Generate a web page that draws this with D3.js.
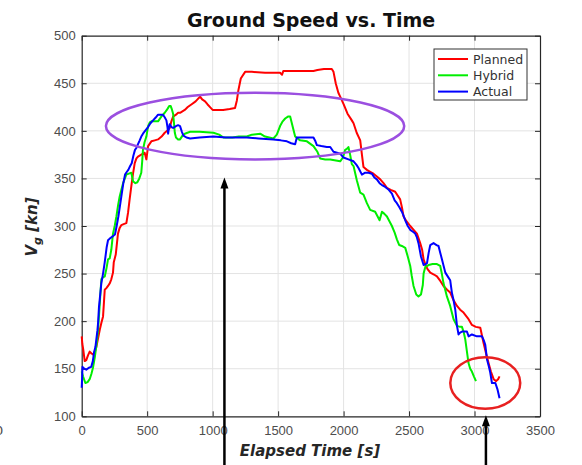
<!DOCTYPE html>
<html>
<head>
<meta charset="utf-8">
<script src="https://cdn.jsdelivr.net/npm/d3@7"></script>
<style>
  body { margin: 0; background: #fff; }
  svg { display: block; font-family: "DejaVu Sans", sans-serif; }
  .grid line { stroke: #e3e3e3; stroke-width: 1; }
  .tick text { fill: #4d4d4d; font-size: 13px; }
</style>
</head>
<body>
<svg width="582" height="465"></svg>
<script>
// series: [elapsed time s, ground speed kn]
const planned = [[0,184],[5,176],[12,170],[23,158],[35,159],[48,164],[61,168],[75,166],[86,165],[100,168],[112,173],[125,182],[138,191],[150,198],[163,205],[170,220],[176,233],[190,235],[201,237],[215,240],[226,244],[239,251],[245,262],[260,270],[277,292],[290,298],[303,301],[320,302],[341,303],[354,314],[366,328],[379,342],[392,355],[405,366],[418,371],[430,373],[455,375],[481,377],[494,370],[507,384],[532,389],[558,390],[583,391],[610,394],[634,398],[660,401],[672,403],[685,410],[698,415],[720,417],[736,419],[751,419],[787,422],[810,425],[840,428],[870,431],[904,436],[920,433],[942,431],[960,428],[980,425],[1000,422],[1019,422],[1080,422],[1130,423],[1171,424],[1185,432],[1197,443],[1215,455],[1248,462],[1300,462],[1400,461],[1515,461],[1530,459],[1540,463],[1600,463],[1700,463],[1770,463],[1800,464],[1850,465],[1910,465],[1923,462],[1940,450],[1960,440],[1974,436],[2000,428],[2030,418],[2063,411],[2076,408],[2100,398],[2127,390],[2140,375],[2152,362],[2178,359],[2203,357],[2228,355],[2254,352],[2280,349],[2305,345],[2331,340],[2360,338],[2394,336],[2432,328],[2445,320],[2458,310],[2480,305],[2509,300],[2535,296],[2560,292],[2585,282],[2600,275],[2611,265],[2624,260],[2640,255],[2662,251],[2690,249],[2713,247],[2740,242],[2763,237],[2790,233],[2814,230],[2840,222],[2866,216],[2890,212],[2916,209],[2950,203],[2980,196],[3010,194],[3044,193],[3069,177],[3090,165],[3107,156],[3125,147],[3146,139],[3165,137],[3180,139],[3191,142]];

const hybrid = [[0,147],[10,142],[28,135],[45,136],[61,139],[75,145],[86,151],[100,162],[112,174],[125,191],[138,218],[150,244],[163,246],[176,247],[190,256],[201,265],[214,266],[226,275],[239,292],[252,300],[265,310],[278,322],[290,331],[303,338],[316,345],[330,350],[341,354],[360,355],[379,356],[392,347],[410,345],[425,346],[440,350],[455,356],[462,368],[468,380],[480,388],[494,394],[507,405],[520,409],[532,410],[560,410],[583,410],[608,415],[634,419],[650,422],[668,426],[680,426],[690,422],[698,418],[705,408],[711,398],[720,393],[736,391],[751,391],[770,395],[787,397],[828,399],[900,399],[1006,398],[1050,396],[1082,393],[1150,393],[1200,394],[1261,394],[1300,396],[1363,397],[1400,394],[1464,392],[1490,396],[1515,405],[1535,410],[1554,413],[1575,415],[1592,415],[1610,405],[1630,394],[1668,390],[1720,389],[1770,384],[1800,378],[1821,371],[1860,370],[1898,370],[1974,368],[1995,372],[2012,380],[2025,381],[2037,383],[2050,375],[2063,365],[2076,363],[2101,348],[2127,335],[2152,333],[2178,324],[2203,317],[2241,315],[2260,310],[2275,306],[2293,315],[2310,313],[2331,310],[2350,305],[2369,300],[2390,293],[2407,286],[2425,280],[2445,279],[2471,277],[2490,268],[2509,258],[2520,248],[2534,237],[2555,228],[2572,226],[2591,228],[2605,238],[2611,250],[2624,257],[2649,259],[2680,260],[2713,260],[2738,258],[2750,250],[2763,240],[2789,226],[2814,216],[2840,202],[2866,195],[2890,194],[2904,194],[2918,188],[2929,181],[2942,168],[2954,156],[2967,150],[2980,147],[2995,142],[3011,137]];

const actual = [[0,130],[3,140],[6,152],[20,150],[35,149],[55,151],[73,152],[85,158],[94,167],[105,173],[112,181],[120,190],[125,198],[132,215],[140,226],[150,240],[163,250],[176,262],[191,278],[201,285],[216,287],[235,289],[254,291],[267,300],[280,310],[293,322],[306,334],[318,345],[331,354],[345,357],[356,359],[370,363],[382,366],[395,374],[407,380],[417,382],[430,386],[443,390],[455,394],[468,397],[490,401],[507,404],[525,408],[545,411],[565,414],[583,417],[605,417],[621,417],[635,414],[647,411],[655,404],[660,397],[665,402],[672,407],[685,404],[698,403],[720,405],[736,406],[751,405],[765,399],[777,395],[800,393],[828,392],[900,393],[1006,394],[1100,393],[1261,393],[1350,392],[1464,391],[1520,390],[1567,389],[1600,387],[1630,386],[1643,393],[1700,393],[1770,393],[1785,389],[1796,385],[1830,384],[1872,383],[1898,383],[1923,378],[1950,377],[1974,376],[1999,372],[2037,370],[2076,368],[2100,364],[2114,361],[2140,354],[2165,356],[2190,356],[2216,355],[2235,351],[2254,349],[2275,345],[2293,343],[2318,341],[2345,338],[2369,334],[2390,327],[2407,324],[2425,320],[2445,315],[2460,310],[2471,306],[2490,300],[2509,296],[2530,294],[2547,292],[2560,288],[2572,282],[2591,268],[2611,259],[2625,260],[2637,261],[2650,272],[2662,280],[2687,282],[2710,280],[2725,279],[2738,272],[2751,265],[2777,251],[2800,246],[2814,243],[2827,230],[2840,222],[2853,212],[2866,195],[2878,186],[2890,188],[2904,189],[2942,189],[2955,184],[2980,186],[3018,184],[3057,184],[3070,180],[3082,175],[3095,160],[3110,152],[3120,146],[3133,135],[3159,135],[3176,128],[3191,119]];

const seriesNames = ["Planned", "Hybrid", "Actual"];
const seriesColors = ["#ff0000", "#00ee00", "#0000ff"];
const xTicks = [0, 500, 1000, 1500, 2000, 2500, 3000, 3500];
const yTicks = [100, 150, 200, 250, 300, 350, 400, 450, 500];

// annotations in data units: [cx, cy, rx, ry]
const purpleEllipse = [1324, 405, 1139, 35];
const redEllipse = [3082, 135, 267, 27];
// arrows: [time, tip speed]
const arrows = [[1090, 351], [3087, 101]];

const svg = d3.select("svg");
const plotL = 81.7, plotR = 540, plotT = 35.7, plotB = 416.3;

const x = d3.scaleLinear().domain([0, 3500]).range([plotL, plotR]);
const y = d3.scaleLinear().domain([100, 500]).range([plotB, plotT]);

// grid
const grid = svg.append("g").attr("class", "grid");
grid.selectAll(".gx").data(xTicks.slice(1, -1)).enter().append("line")
    .attr("x1", d => x(d)).attr("x2", d => x(d))
    .attr("y1", plotT).attr("y2", plotB);
grid.selectAll(".gy").data(yTicks.slice(1, -1)).enter().append("line")
    .attr("y1", d => y(d)).attr("y2", d => y(d))
    .attr("x1", plotL).attr("x2", plotR);

// axes (MATLAB box, inward ticks)
const axColor = "#262626";
svg.append("g").attr("transform", `translate(0,${plotB})`)
    .call(d3.axisBottom(x).tickValues(xTicks).tickFormat(d3.format("d"))
        .tickSizeInner(-5).tickSizeOuter(0).tickPadding(9))
    .call(g => g.selectAll("line, path").attr("stroke", axColor));
svg.append("g").attr("transform", `translate(${plotL},0)`)
    .call(d3.axisLeft(y).tickValues(yTicks).tickFormat(d3.format("d"))
        .tickSizeInner(-5).tickSizeOuter(0).tickPadding(6))
    .call(g => g.selectAll("line, path").attr("stroke", axColor));
svg.append("g").attr("transform", `translate(0,${plotT})`)
    .call(d3.axisTop(x).tickValues(xTicks).tickSizeInner(-5).tickSizeOuter(0).tickFormat(""))
    .call(g => g.selectAll("line, path").attr("stroke", axColor));
svg.append("g").attr("transform", `translate(${plotR},0)`)
    .call(d3.axisRight(y).tickValues(yTicks).tickSizeInner(-5).tickSizeOuter(0).tickFormat(""))
    .call(g => g.selectAll("line, path").attr("stroke", axColor));
svg.selectAll(".domain").attr("stroke-width", 1.2);

// lines
const line = d3.line().x(d => x(d[0])).y(d => y(d[1]));
[planned, hybrid, actual].forEach((s, i) => {
    svg.append("path")
        .datum(s)
        .attr("fill", "none")
        .attr("stroke", seriesColors[i])
        .attr("stroke-width", 2)
        .attr("stroke-linejoin", "round")
        .attr("d", line);
});

// title and labels
svg.append("text")
    .attr("x", 311).attr("y", 27)
    .attr("text-anchor", "middle")
    .attr("font-size", 19).attr("font-weight", "bold")
    .attr("fill", "#111")
    .text("Ground Speed vs. Time");

svg.append("text")
    .attr("x", 310).attr("y", 456)
    .attr("text-anchor", "middle")
    .attr("font-size", 15).attr("font-weight", "bold").attr("font-style", "italic")
    .attr("fill", "#262626")
    .text("Elapsed Time [s]");

const yl = svg.append("text")
    .attr("transform", "translate(37,227) rotate(-90)")
    .attr("text-anchor", "middle")
    .attr("font-size", 15).attr("font-weight", "bold").attr("font-style", "italic")
    .attr("fill", "#262626");
yl.append("tspan").text("V");
yl.append("tspan").attr("dy", 4).attr("font-size", 11).text("g");
yl.append("tspan").attr("dy", -4).text(" [kn]");

// stray clipped label at left edge (cut off in the source image too)
svg.append("text")
    .attr("x", -5).attr("y", 435)
    .attr("font-size", 13).attr("fill", "#4d4d4d")
    .text("0");

// legend
const lg = svg.append("g").attr("transform", "translate(434,49)");
lg.append("rect").attr("width", 93).attr("height", 51)
    .attr("fill", "#fff").attr("stroke", "#333").attr("stroke-width", 1);
seriesNames.forEach((n, i) => {
    const yy = 10 + i * 16.3;
    lg.append("line").attr("x1", 4).attr("x2", 34).attr("y1", yy).attr("y2", yy)
        .attr("stroke", seriesColors[i]).attr("stroke-width", 2);
    lg.append("text").attr("x", 39).attr("y", yy + 4.5)
        .attr("font-size", 12.5).attr("fill", "#333").text(n);
});

// annotations
function drawEllipse(e, color) {
    svg.append("ellipse")
        .attr("cx", x(e[0])).attr("cy", y(e[1]))
        .attr("rx", x(e[2]) - x(0)).attr("ry", y(100) - y(100 + e[3]))
        .attr("fill", "none").attr("stroke", color).attr("stroke-width", 2.5);
}
drawEllipse(purpleEllipse, "#9b4fe0");
drawEllipse(redEllipse, "#e82020");

arrows.forEach(a => {
    const ax = x(a[0]), tip = y(a[1]);
    svg.append("line").attr("x1", ax).attr("x2", ax).attr("y1", tip + 8).attr("y2", 470)
        .attr("stroke", "#000").attr("stroke-width", 2.5);
    svg.append("path")
        .attr("d", `M${ax},${tip} L${ax - 4},${tip + 11} L${ax + 4},${tip + 11} Z`)
        .attr("fill", "#000");
});
</script>
</body>
</html>
